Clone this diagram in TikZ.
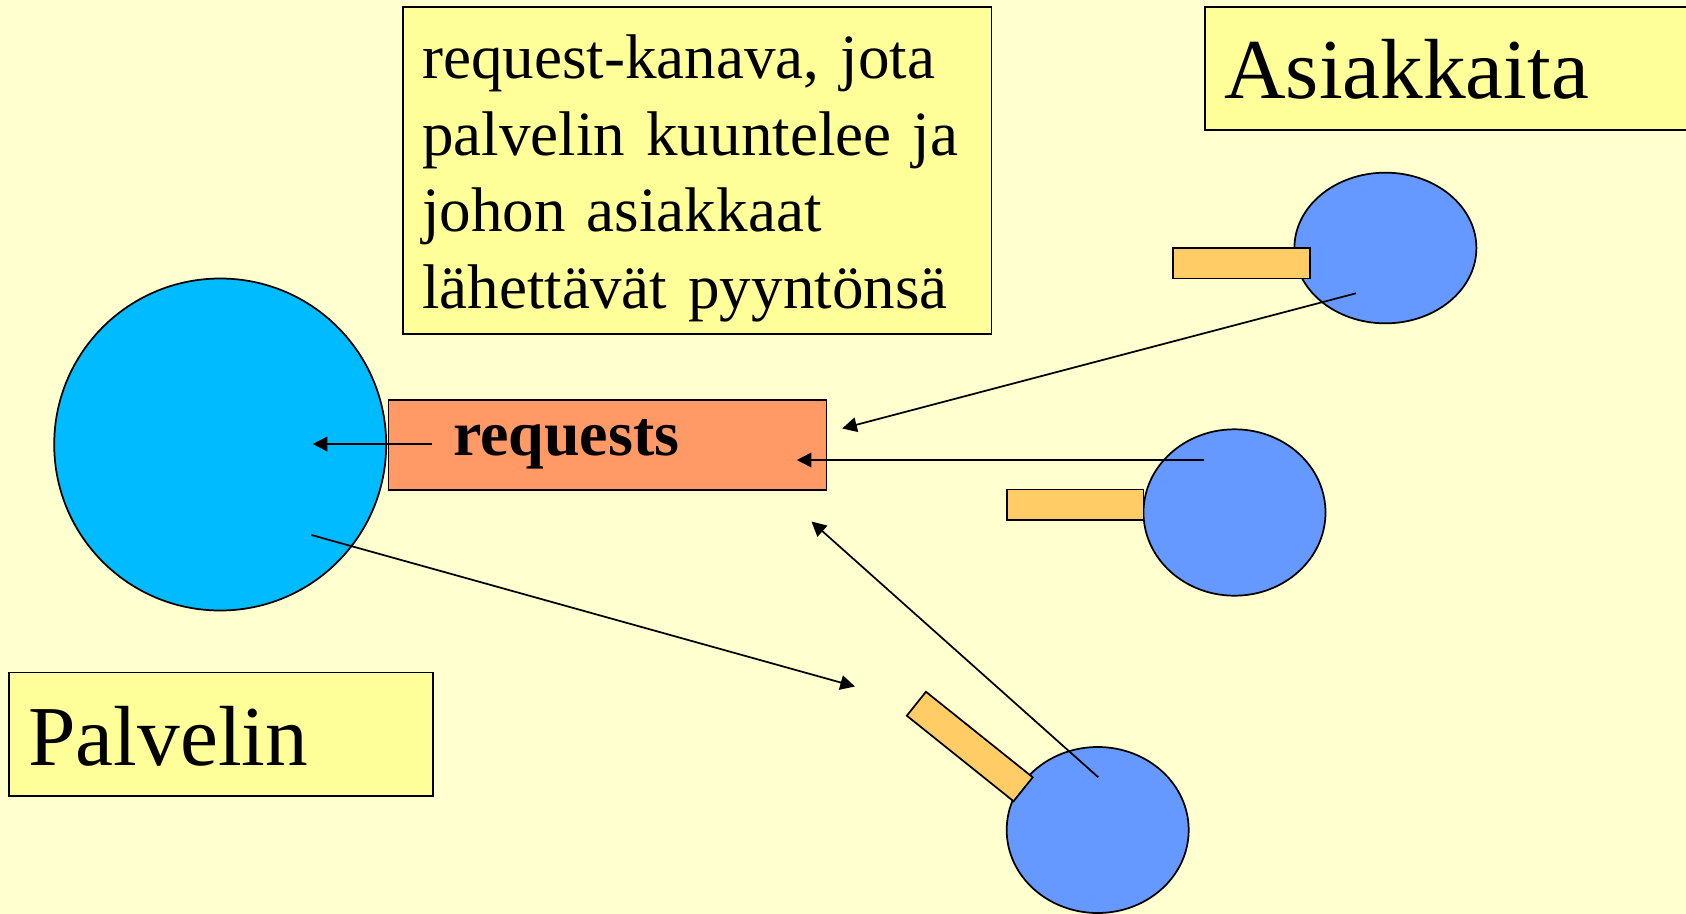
\documentclass[tikz,border=0pt]{standalone}
\usepackage{fontspec}
\setmainfont{Liberation Serif}
\usepackage{tikz}
\usetikzlibrary{shapes}
\usetikzlibrary{arrows.meta}
\usepackage{xcolor}

\definecolor{slidebg}{RGB}{255,255,208}
\definecolor{notefill}{RGB}{255,255,153}
\definecolor{chanfill}{RGB}{255,153,102}
\definecolor{serverfill}{RGB}{0,187,255}
\definecolor{clientfill}{RGB}{102,153,255}
\definecolor{portfill}{RGB}{255,204,102}

\begin{document}
\begin{tikzpicture}[x=0.75pt,y=0.75pt,yscale=-1,xscale=1,
  outline/.style={draw=black,line width=1.3pt},
  note/.style={outline,fill=notefill,rectangle,anchor=north west,inner xsep=14.5pt,inner ysep=0pt,align=left},
  client/.style={outline,fill=clientfill,ellipse,inner sep=0pt,minimum width=136.5pt},
  port/.style={outline,fill=portfill,rectangle,inner sep=0pt,minimum width=102.6pt,minimum height=23pt},
  msg/.style={line width=1.3pt,-{Triangle[length=11pt,width=11pt]}}]
%canvas of 1686 x 914, y pointing down
\useasboundingbox[fill=slidebg] (0,0) rectangle (1686,914);

%Shape: Circle (server)
\node (palvelin) [outline,fill=serverfill,circle,inner sep=0pt,minimum size=249pt] at (220.2,444.5) {};
%Shape: Rectangle (request channel)
\node (kanava) [outline,fill=chanfill,rectangle,anchor=north west,inner xsep=48.5pt,inner ysep=0pt,
  text width=231.5pt,text height=41.8pt,text depth=25.7pt,align=left,
  font={\fontsize{48}{57.6}\selectfont\bfseries}] at (387.5,399.3) {requests};

%Shape: Ellipse + port (clients)
\node (asiakas1) [client,minimum height=113pt] at (1385.4,248) {};
\node (portti1) [port] at (1241.4,263.2) {};
\node (asiakas2) [client,minimum height=124.8pt] at (1234.5,512.5) {};
\node (portti2) [port] at (1075.1,504.8) {};
\node (asiakas3) [client,minimum height=124.5pt] at (1097.7,830) {};
\node (portti3) [port,rotate=-38.7] at (969.75,746.5) {};

% Text Node
\node (selitys) [note,font={\fontsize{47.3}{57.6}\selectfont},text width=412.5pt,text height=53.5pt,text depth=191.8pt] at (402,6)
  {request-kanava, jota\\palvelin kuuntelee ja\\johon asiakkaat\\lähettävät pyyntönsä};
% Text Node
\node (asiakkaat) [note,font={\fontsize{64}{76.8}\selectfont},text width=343pt,text height=69pt,text depth=23.25pt] at (1204,6) {Asiakkaita};
% Text Node
\node (palvelinnimi) [note,font={\fontsize{64}{76.8}\selectfont},text width=289pt,text height=70pt,text depth=22.5pt] at (8.3,671.7) {Palvelin};

%arrow ends
\coordinate (kanava-ulos) at (432.3,444);
\coordinate (palvelin-sisaan) at (312.8,444);
\coordinate (a1-lahto) at (1356,293.3);
\coordinate (a1-kohde) at (842.2,428.5);
\coordinate (a2-lahto) at (1204.2,460);
\coordinate (a2-kohde) at (796.8,460);
\coordinate (a3-lahto) at (1098.3,777.3);
\coordinate (a3-kohde) at (811.5,521.5);
\coordinate (vastaus-lahto) at (311.5,535);
\coordinate (vastaus-kohde) at (855,686.5);

%Straight Lines
\draw [msg] (kanava-ulos) -- (palvelin-sisaan);
\draw [msg] (a1-lahto) -- (a1-kohde);
\draw [msg] (a2-lahto) -- (a2-kohde);
\draw [msg] (a3-lahto) -- (a3-kohde);
\draw [msg] (vastaus-lahto) -- (vastaus-kohde);

\end{tikzpicture}
\end{document}
